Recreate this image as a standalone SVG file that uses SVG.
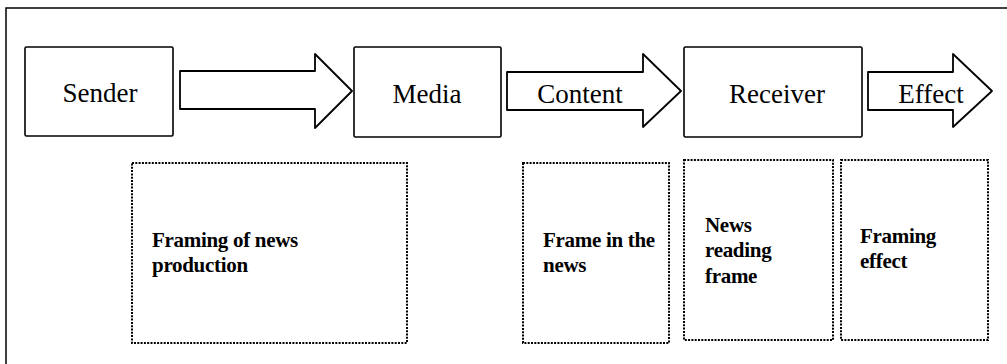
<svg xmlns="http://www.w3.org/2000/svg" width="1007" height="364" viewBox="0 0 1007 364">
<style>
.frame{fill:none;stroke:#000;stroke-width:1.5}
.box{fill:#fff;stroke:#000;stroke-width:1.6}
.arrow{fill:#fff;stroke:#000;stroke-width:1.8;stroke-linejoin:round}
.dot{fill:none;stroke:#000;stroke-width:2;stroke-dasharray:2 1.3}
.lbl{font-family:"Liberation Serif","Times New Roman",serif;font-size:27px;fill:#000}
.sub{font-family:"Liberation Serif","Times New Roman",serif;font-size:21px;font-weight:bold;fill:#000;letter-spacing:-0.3px}
</style>
<rect width="1007" height="364" fill="#fff"/>
<path class="frame" d="M6,364 V8 H1007"/>
<g id="connectors">
<polygon class="arrow" points="180,71 315,71 315,54 352,91 315,128 315,109 180,109"/>
<polygon class="arrow" points="507,72 643,72 643,54 681,91 643,127 643,110 507,110"/>
<polygon class="arrow" points="868,72 953,72 953,54 992,91 953,127 953,110 868,110"/>
<text class="lbl" x="580" y="103" text-anchor="middle">Content</text>
<text class="lbl" x="931" y="103" text-anchor="middle">Effect</text>
</g>
<g id="sender">
<rect class="box" x="25" y="47" width="148" height="89" rx="1.5"/>
<text class="lbl" x="100" y="102" text-anchor="middle">Sender</text>
</g>
<g id="media">
<rect class="box" x="354" y="47" width="147" height="90" rx="1.5"/>
<text class="lbl" x="427" y="103" text-anchor="middle">Media</text>
</g>
<g id="receiver">
<rect class="box" x="684" y="47" width="178" height="90" rx="1.5"/>
<text class="lbl" x="777" y="103" text-anchor="middle">Receiver</text>
</g>
<g id="frame-production">
<rect class="dot" x="132" y="163" width="275" height="180"/>
<text class="sub" x="152" y="247">Framing of news</text>
<text class="sub" x="152" y="272">production</text>
</g>
<g id="frame-news">
<rect class="dot" x="523" y="163" width="146" height="180"/>
<text class="sub" x="543" y="247">Frame in the</text>
<text class="sub" x="543" y="272">news</text>
</g>
<g id="frame-reading">
<rect class="dot" x="684" y="160" width="149" height="180"/>
<text class="sub" x="705" y="232">News</text>
<text class="sub" x="705" y="257">reading</text>
<text class="sub" x="705" y="283">frame</text>
</g>
<g id="frame-effect">
<rect class="dot" x="841" y="160" width="147" height="180"/>
<text class="sub" x="860" y="243">Framing</text>
<text class="sub" x="860" y="268">effect</text>
</g>
</svg>
